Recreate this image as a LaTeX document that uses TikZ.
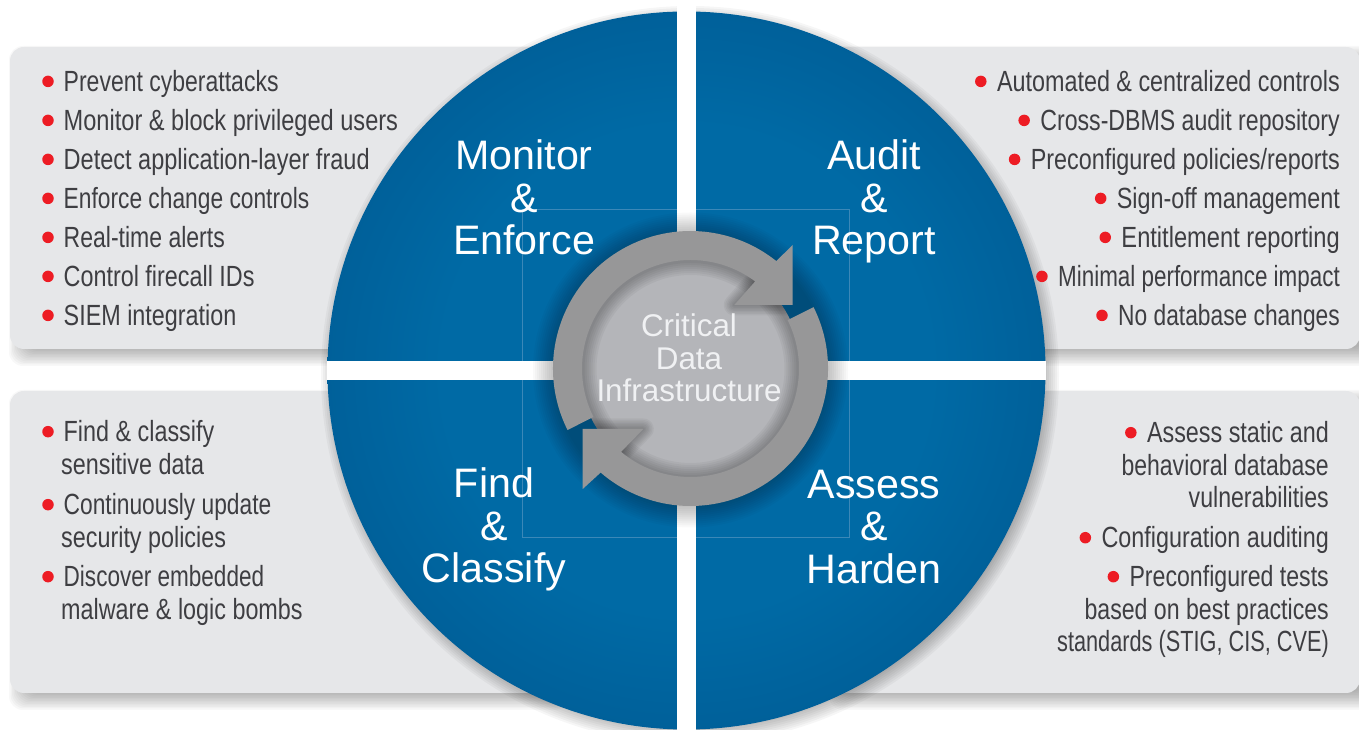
\documentclass[tikz,border=0pt]{standalone}
\usepackage{fontspec}
\setmainfont{Liberation Sans}
\newfontfamily\condfont[FakeStretch=0.8]{Liberation Sans}
\usetikzlibrary{calc}
\definecolor{blueC}{HTML}{006AA5}
\definecolor{blueE}{HTML}{00548C}
\definecolor{panelgray}{HTML}{E6E7E9}
\definecolor{ringgray}{HTML}{979798}
\definecolor{discgray}{HTML}{B4B5B9}
\definecolor{bulletred}{HTML}{ED1C24}
\definecolor{bodytext}{HTML}{3E3E42}
\definecolor{squareline}{HTML}{3B88B8}
\definecolor{coretext}{HTML}{F0F1F3}
\pgfdeclareradialshading{bigdisc}{\pgfpointorigin}{color(0bp)=(blueC); color(17bp)=(blueC); color(35bp)=(blueE); color(50bp)=(blueE)}
\tikzset{
  x=1pt,y=1pt,
  bodyitem/.style={font=\condfont\fontsize{29.2}{31}\selectfont,text=bodytext,inner sep=0pt},
  bulletdot/.style={circle,fill=bulletred,inner sep=0pt,minimum size=11.5pt},
  heading/.style={font=\fontsize{41.2}{43}\selectfont,text=white,inner sep=0pt,anchor=base},
  coretitle/.style={font=\fontsize{31.4}{33}\selectfont,text=coretext,inner sep=0pt,anchor=base},
  panelbox/.style={fill=panelgray,rounded corners=14pt},
  ringpiece/.style={fill=ringgray},
}
\newcommand{\xs}[2]{\scalebox{#1}[1]{#2}}
\newcommand{\leftitem}[3]{%
  \node[bodyitem,anchor=base west] (#1) at (63.5,{730-#2}) {#3};
  \node[bulletdot] (#1dot) at (48,{730-#2+10}) {};}
\newcommand{\leftcont}[3]{%
  \node[bodyitem,anchor=base west] (#1) at (61,{730-#2}) {#3};}
\newcommand{\rightitem}[4]{%
  \node[bodyitem,anchor=base east] (#1) at (#2,{730-#3}) {#4};
  \node[bulletdot] (#1dot) at ($(#1.base west)+(-16,10)$) {};}
\newcommand{\rightcont}[4]{%
  \node[bodyitem,anchor=base east] (#1) at (#2,{730-#3}) {#4};}
\begin{document}
\begin{tikzpicture}
\useasboundingbox (0,0) rectangle (1359,730);
% panel shadows
\foreach \e in {-9,-7.5,...,9}{
  \fill[black,fill opacity=.028,rounded corners=14pt] (18-\e,373-\e) rectangle (560+\e,675+\e);
  \fill[black,fill opacity=.028,rounded corners=14pt] (18-\e,29-\e) rectangle (560+\e,331+\e);
  \fill[black,fill opacity=.028,rounded corners=14pt] (838-\e,373-\e) rectangle (1375+\e,675+\e);
  \fill[black,fill opacity=.028,rounded corners=14pt] (838-\e,29-\e) rectangle (1375+\e,331+\e);
}
% panels
\fill[panelbox] (10,381) rectangle (560,683);
\fill[panelbox] (10,37) rectangle (560,339);
\fill[panelbox] (820,381) rectangle (1360,683);
\fill[panelbox] (820,37) rectangle (1360,339);
% shadow of the big disc
\foreach \e in {-6,-4,...,10}{
  \fill[black,fill opacity=.035] (690,355) circle[radius=359+\e];
}
% big disc
\shade[shading=bigdisc] (686.5,359.5) circle[radius=359];
% thin square
\draw[squareline,line width=.5pt] (522.3,192.7) rectangle (849.3,521);
% white bars
\fill[white] (677,0) rectangle (696,730);
\fill[white] (327,349.5) rectangle (1046,369);
% halo round the ring
\foreach \e in {0,2,...,20}{
  \fill[black,fill opacity=.024] (690.5,360) circle[radius=137.5+\e];
}
% core disc
\fill[discgray] (690.5,361.5) circle[radius=111];
% inner shadows on the core disc
\begin{scope}
  \clip (690.5,361.5) circle[radius=111];
  \foreach \w in {5,9,...,29}{
    \draw[black,draw opacity=.04,line width=\w pt] (690.5,361) circle[radius=108.5];
  }
  \foreach \w in {3,6,...,21}{
    \draw[black,draw opacity=.04,line width=\w pt,line join=round,line cap=round]
      (792.7,425) -- (734.3,425) -- ($(690.5,361.5)+(53.4:108.5)$);
    \draw[black,draw opacity=.04,line width=\w pt,line join=round,line cap=round]
      (582.7,301) -- (643.3,301) -- ($(690.5,361.5)+(230.2:108.5)$);
  }
\end{scope}
% ring pieces
\fill[ringpiece] ($(690.5,361.5)+(206.6:137.5)$) arc[start angle=206.6,end angle=51.4,radius=137.5]
  -- (792.7,485) -- (792.7,425) -- (734.3,425)
  -- ($(690.5,361.5)+(53.4:108.5)$) arc[start angle=53.4,end angle=206.5,radius=108.5] -- cycle;
\fill[ringpiece] ($(690.5,361.5)+(26.5:137.5)$) arc[start angle=26.5,end angle=-130.8,radius=137.5]
  -- (582.7,241) -- (582.7,301) -- (643.3,301)
  -- ($(690.5,361.5)+(-129.8:108.5)$) arc[start angle=-129.8,end angle=26.5,radius=108.5] -- cycle;
% centre text
\node[coretitle] (core1) at (689,393) {Critical};
\node[coretitle] (core2) at (689,360) {Data};
\node[coretitle] (core3) at (689,328) {Infrastructure};
% headings
\node[heading] (me1) at (524,560) {Monitor};
\node[heading] (me2) at (524,517) {\&};
\node[heading] (me3) at (524,475) {Enforce};
\node[heading] (ar1) at (874,560) {Audit};
\node[heading] (ar2) at (874,517) {\&};
\node[heading] (ar3) at (874,475) {Report};
\node[heading] (fc1) at (494,232) {Find};
\node[heading] (fc2) at (494,189) {\&};
\node[heading] (fc3) at (494,147) {Classify};
\node[heading] (ah1) at (874,231) {Assess};
\node[heading] (ah2) at (874,189) {\&};
\node[heading] (ah3) at (874,146) {Harden};
% top left list
\leftitem{tla}{91.4}{\xs{.985}{Prevent cyberattacks}}
\leftitem{tlb}{130.4}{\xs{1.01}{Monitor \& block privileged users}}
\leftitem{tlc}{169.4}{\xs{1.007}{Detect application-layer fraud}}
\leftitem{tld}{208.4}{\xs{.975}{Enforce change controls}}
\leftitem{tle}{247.4}{\xs{.985}{Real-time alerts}}
\leftitem{tlf}{286.4}{Control firecall IDs}
\leftitem{tlg}{325.4}{SIEM integration}
% top right list
\rightitem{tra}{1340}{91.4}{Automated \& centralized controls}
\rightitem{trb}{1340}{130.4}{\xs{.99}{Cross-DBMS audit repository}}
\rightitem{trc}{1340}{169.4}{Preconfigured policies/reports}
\rightitem{trd}{1340}{208.4}{Sign-off management}
\rightitem{tre}{1340}{247.4}{\xs{1.013}{Entitlement reporting}}
\rightitem{trf}{1340}{286.4}{\xs{.96}{Minimal performance impact}}
\rightitem{trg}{1340}{325.4}{\xs{.975}{No database changes}}
% bottom left list
\leftitem{bla}{441.7}{Find \& classify}
\leftcont{blb}{474.7}{sensitive data}
\leftitem{blc}{514.7}{\xs{.975}{Continuously update}}
\leftcont{bld}{547.7}{security policies}
\leftitem{ble}{586.7}{\xs{.965}{Discover embedded}}
\leftcont{blf}{619.7}{malware \& logic bombs}
% bottom right list
\rightitem{bra}{1329}{442.7}{Assess static and}
\rightcont{brb}{1329}{475.7}{\xs{.985}{behavioral database}}
\rightcont{brc}{1329}{507.7}{\xs{.99}{vulnerabilities}}
\rightitem{brd}{1329}{547.7}{Configuration auditing}
\rightitem{bre}{1329}{586.7}{\xs{.99}{Preconfigured tests}}
\rightcont{brf}{1329}{619.7}{\xs{.99}{based on best practices}}
\rightcont{brg}{1329}{651.7}{\xs{.93}{standards (STIG, CIS, CVE)}}
\end{tikzpicture}
\end{document}
